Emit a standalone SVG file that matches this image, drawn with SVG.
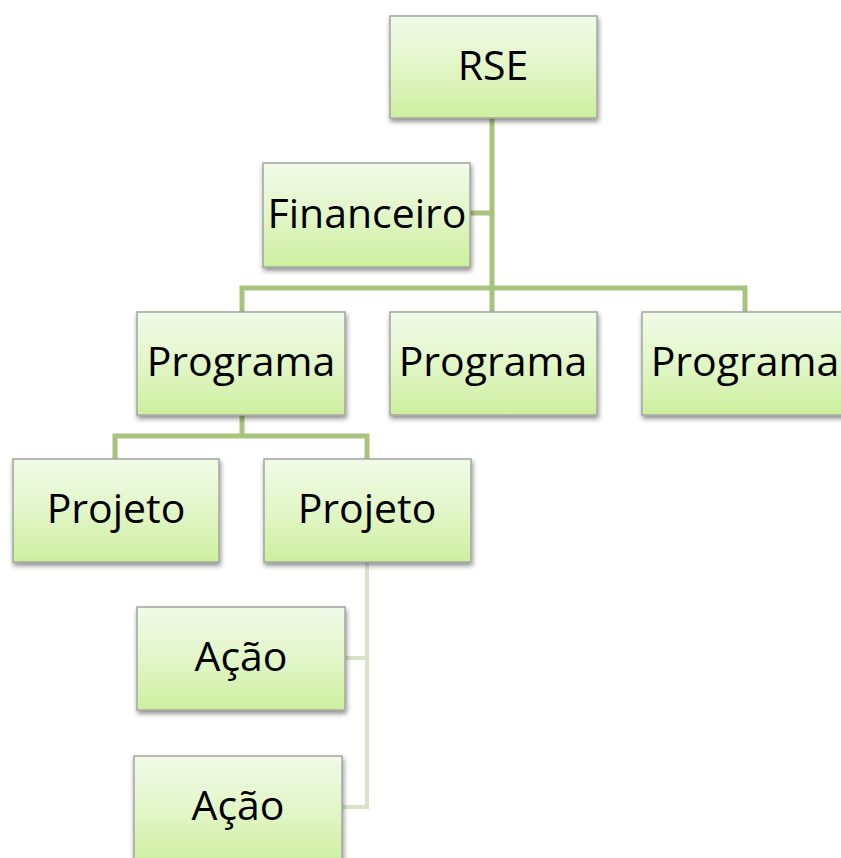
<svg xmlns="http://www.w3.org/2000/svg" width="841" height="858" viewBox="0 0 841 858">
<defs>
<linearGradient id="g" x1="0" y1="0" x2="0" y2="1">
<stop offset="0" stop-color="#f1fae8"/>
<stop offset="0.5" stop-color="#e2f6c8"/>
<stop offset="1" stop-color="#cdef9e"/>
</linearGradient>
<filter id="sh" x="-10%" y="-10%" width="125%" height="130%">
<feGaussianBlur in="SourceAlpha" stdDeviation="2.5"/>
<feOffset dx="1" dy="3" result="b"/>
<feComponentTransfer><feFuncA type="linear" slope="0.45"/></feComponentTransfer>
<feMerge><feMergeNode/><feMergeNode in="SourceGraphic"/></feMerge>
</filter>
</defs>
<style>
.box{fill:url(#g);stroke:#a3a79f;stroke-width:1.5;filter:url(#sh)}
.t{font-family:"Open Sans","Noto Sans",sans-serif;font-size:41px;fill:#000;text-anchor:middle}
.c{fill:none;stroke:#a7c37c;stroke-width:5}
.cl{fill:none;stroke:#d6e3c6;stroke-width:4}
</style>
<g id="connectors">
<path class="c" d="M492 118 V288 M470 213 H492 M242 312 V288 H745 V312 M492 288 V312"/>
<path class="c" d="M242 415 V436 M115 459 V436 H367 V459"/>
<path class="cl" d="M367 562 V807 H342 M345 658 H367"/>
</g>
<g id="rse"><rect class="box" x="390" y="16" width="207" height="102"/><text class="t" x="493" y="80">RSE</text></g>
<g id="financeiro"><rect class="box" x="263" y="163" width="207" height="104"/><text class="t" x="367" y="228">Financeiro</text></g>
<g id="programa1"><rect class="box" x="137" y="312" width="208" height="103"/><text class="t" x="241" y="376">Programa</text></g>
<g id="programa2"><rect class="box" x="390" y="312" width="207" height="103"/><text class="t" x="493" y="376">Programa</text></g>
<g id="programa3"><rect class="box" x="642" y="312" width="207" height="103"/><text class="t" x="745" y="376">Programa</text></g>
<g id="projeto1"><rect class="box" x="13" y="459" width="206" height="103"/><text class="t" x="116" y="523">Projeto</text></g>
<g id="projeto2"><rect class="box" x="264" y="459" width="207" height="103"/><text class="t" x="367" y="523">Projeto</text></g>
<g id="acao1"><rect class="box" x="137" y="607" width="208" height="103"/><text class="t" x="241" y="671">Ação</text></g>
<g id="acao2"><rect class="box" x="134" y="756" width="208" height="110"/><text class="t" x="238" y="820">Ação</text></g>
</svg>
